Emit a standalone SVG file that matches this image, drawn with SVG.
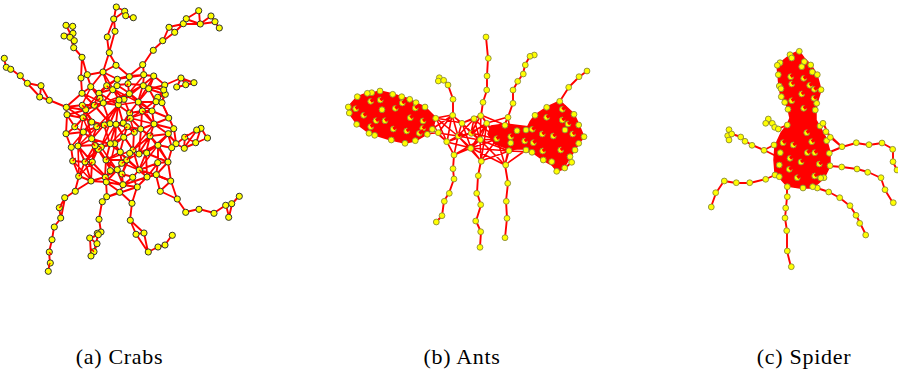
<svg xmlns="http://www.w3.org/2000/svg" width="898" height="375" viewBox="0 0 898 375">
<style>
.e{fill:none;stroke:#f00;stroke-width:1.9;stroke-linejoin:round;stroke-linecap:round}
.m{stroke-width:1.6}
.t{stroke-width:1.1}
.b{fill:#f00;stroke:#f00;stroke-width:1.5;stroke-linejoin:round}
.o{fill:none;stroke:#f00;stroke-width:3.4}
.q{fill:none;stroke:#f00;stroke-width:1.3}
.c circle{fill:#ff0;stroke:#333;stroke-width:1;r:3.1px}
.p circle{fill:#ff0;stroke:#8a8a3a;stroke-width:.9;r:2.9px}
text{font-family:"Liberation Serif",serif;font-size:22px;fill:#000;letter-spacing:.7px;text-anchor:middle}
</style>
<g id="connectors">
<path class="e" d="M116 7L125 11L126 16L133 18M116 7L114 19L125 11M114 19L107 37L109 53L115 31L114 19M109 53L116 65L103 72L109 53M66 25L73 26L73 33L64 36L70 37L74 41L66 25M73 26L74 48L82 57L87 75M70 37L74 48L73 33M82 57L81 78L82 93M81 78L87 75M4 58L6 67L11 69L20 76L27 83L41 86L40 97L49 100L66 107M27 83L40 97M41 86L49 100M143 65L153 50L163 41L175 32L169 27L163 41M169 27L183 24L186 19L199 11L200 24L186 19M175 32L183 24M200 24L211 16L215 22L219 28M200 24L215 22M183 24L200 24M181 78L194 83L186 85L177 87L181 78L165 85M186 85L181 78M165 85L165 94L158 98L156 102L162 103L165 94L164 90L143 85M158 98L164 90"/>
<path class="e" d="M201 128L197 130L185 137L184 148L176 144L172 148M185 137L196 143L207 138L201 128L196 143L184 148L197 130M172 148L176 144L185 137M168 162L171 181L160 191L156 175L171 181L177 199L186 212L199 209L214 213L226 205L232 204L239 196M226 205L229 217L232 204M160 191L177 199M75 191L65 198L59 208L61 218L54 227L52 240L49 252L50 263L48 271M65 198L61 218M91 181L75 191L79 176M102 202L107 197M102 202L99 219L101 232L97 233L98 235L90 238L97 244L94 252L91 256L90 238M98 235L94 252M132 203L130 220L136 234L144 233L148 252L158 247L165 245L172 235M130 220L144 233M136 234L148 252M132 203L120 192L107 197L137 187L132 203M120 192L123 185"/>
<path class="e" d="M103 72L87 75L91 87L82 93L66 107L83 105L94 105L82 93M103 72L91 87L99 93L107 85L103 72L117 79L107 85L113 89L117 85L117 79L129 76L128 84L117 85L129 93L128 84L143 85L144 75L129 76L116 65L129 76L143 65L144 75L154 76L143 85L149 89L154 76L165 85L149 89L164 94L162 103M117 79L144 75M91 87L103 103L99 93L113 89L103 103L119 100L113 89L124 99L129 93L138 102L149 89L156 102L138 102L143 85L129 93M156 102L152 111L142 111L138 102L152 111L169 118L162 103M99 93L94 105L103 103L85 110L94 105L83 105L85 110L66 107L67 115L85 110L83 118L67 115L75 127L83 118L92 122L85 110M94 105L110 123L103 103L118 105L110 123L104 125L92 122L97 127L83 132L92 122M119 100L118 105L124 99L129.5 113L118 105L123 123L129.5 113L130 118L123 123L116 124L118 105M129.5 113L142 111L130 118L141 129L142 111L154 124L152 111M129.5 113L138 102M154 124L169 118L174 129L154 124L141 129L127 127L123 123L110 123L116 124L104 125L110 123M127 127L116 124L124 137L127 127L134 132L141 129L150 136L154 124L168 134L174 129L176 143L168 134L150 136L158 145L168 134L172 148L158 145L172 148L176 144M104 125L92 139L97 127L104 125L110 144L116 124L115 144L124 137L134 132L133 150L124 137L120 152L115 144L110 144L124 137M66 134L75 127L83 132L66 134L71 147L78 146L83 132L92 139L78 146L95 145L92 139L101 147L95 145L98 149L101 147L110 144M115 144L101 147M92 139L110 144M150 136L139 153L133 150L150 136L146 153L158 145L139 153L146 153M141 129L139 153M158 145L168 162L158 163L158 145M71 147L73 161L85 162L78 146L92 162L85 162L95 145L92 162L98 149L106 160L110 144L120 152L106 160L127 160L120 152L122 163L127 160L133 150L122 174L117 170L111 170L106 160L117 170L122 163M73 161L79 176L85 162L91 181L79 176M92 162L91 181L105 177L106 160L111 170L105 177L117 170L106 182L91 181M98 149L85 162M127 160L139 170L133 150M139 153L127 160M139 170L146 153L147 177L139 170L133 177L122 174L123 185L133 177L137 187L123 185L106 182L105 177L123 185L117 170M139 170L156 175L147 177L158 163L156 175L168 162L146 153M139 170L158 163M106 182L107 197M122 174L127 160M147 177L137 187M146 153L158 145M156 175L171 181M168 162L172 148M73 161L71 147M66 134L67 115M66 107L67 115M82 93L66 107M66 107L83 118M120 192L106 182M120 192L123 185L147 177M92 162L106 177"/>
<path class="e m" d="M82 93L103 103L83 118L104 125L118 105L99 93L85 110L97 127L118 105L129 93L103 103M113 89L138 102L118 105L143 85L124 99M129 93L152 111L130 118L154 124L138 102M91 87L82 105M103 72L113 89M117 79L99 93M144 75L129 93M154 76L138 102M164 94L142 111M162 103L169 118M85 110L92 139L83 118L78 146M92 122L71 147M97 127L78 146M110 123L101 147L116 124L133 150M127 127L110 144M123 123L134 132L130 118M141 129L158 145M154 124L133 150M168 134L146 153M174 129L158 145M150 136L168 162M158 145L139 170M133 150L106 160M120 152L147 177M127 160L105 177M122 163L139 170M106 160L92 139M95 145L111 170M85 162L105 177M73 161L92 181M78 146L79 176M92 162L79 176M101 147L117 170M115 144L106 182"/>
<path class="e" d="M486 37L488 58L487 76L487 90L483 102L481 116M534 55L530 56L525 65L523 74L518 81L513 90L513 103L508 117M587 71L579 77L569 87L560 101M439 78L438 81L444 80L448 85L453 99L453 115M439 78L444 80M454 155L453 169L454 179L449 193L444 201L442 216L436 222M481 161L478 176L477 193L481 205L476 221L481 232L480 247M505 165L508 183L506 201L507 218L505 238M557 171L565 168L572 162M557 171L552 162M557 171L570 157"/>
<path class="e m" d="M436 118L452 115L462 123L474 119L481 115L487 123L508 117L505 125L517 131L526 130L532 129M438 133L447 142L458 136L471 133L480 140L497 139L511 137L525 141L533 143M454 155L471 148L481 161L509 151L505 165L526 150L532 152M436 118L447 142L452 115L458 136L462 123L471 133L474 119L480 140L481 115L471 133M438 133L452 115M438 133L458 136L454 155L447 142M458 136L471 148L462 123M471 148L480 140L481 161L497 139L505 165L480 140L509 151L497 139L471 148L509 151M432 129L453 115M436 118L462 123M487 123L480 140M481 115L497 139L508 117L511 137L505 125L497 139M462 123L480 140L452 115M505 165L511 137M509 151L532 152L525 141L509 151L533 143M447 142L471 133M454 155L480 140M481 161L458 136M505 165L471 148M436 118L458 136M432 129L447 142M474 119L458 136M471 133L487 123L471 148M481 115L505 125M474 119L497 139M462 123L481 115M458 136L480 140M447 142L471 148M487 123L481 161M509 151L481 161M497 139L517 131M471 133L497 139M487 123L497 139L508 117M454 155L458 136L481 161"/>
<polygon class="b" points="491,126 505,124 530,127 532,149 509,149 495,144 488,134"/>
<polygon class="b" points="348,107 349,113 357,124 369,133 375,135 391,140 405,143 415,141 427,134 432,129 436,118 425,107 416,103 410,99 402,97 393,94 380,91 372,93 367,93 357,97"/>
<path class="e t" d="M438 133L427 134L436 118L432 129L415 141M425 107L438 133M416 103L436 118M438 133L419 133M436 118L410 130"/>
<path class="b" d="M530 122L535 115L547 107L560 101L574 114L579 125L584 137L579 143L575 150L570 157L565 166L557 171L552 165L543 160L532 152L526 150L524 141L526 130Z"/>
<polygon class="b" points="799,51 790,55 780,63 777,65 778,75 779,86 781,97 785,102 788,109 790,118 787,125 781,133 775,146 774,160 775,173 779,177 787,186 800,188 813,188 824,178 830,166 830,152 826,138 820,127 816,120 816,110 817,103 821,90 817,75 811,65 804,58"/>
<path class="e" d="M768 119L766 123L772 123L775 127L778 129L787 125M768 119L772 123M729 130L728 136L732 134L729 140M729 130L732 134L741 137L745 141L752 145L764 150L774 145M764 150L780 158L774 145M823 123L830 137L842 147L856 143L869 145L882 143L893 149L893 162L897 170M826 132L842 147L830 152L842 147M830 166L842 167L857 169L868 172L881 178L885 190L893 203M817 188L829 192L840 198L850 206L856 215L860 223L866 235M787 187L787 197L786 208L785 218L787 231L787 251L791 267M775 175L766 179L750 183L736 183L724 181L716 193L711 207"/>
</g>
<g class="c">
<g id="c1"><circle cx="116.3" cy="7"/></g><g id="c2"><circle cx="124.7" cy="11.3"/></g><g id="c3"><circle cx="125.7" cy="15.7"/></g><g id="c4"><circle cx="133.3" cy="17.7"/></g><g id="c5"><circle cx="113.7" cy="19"/></g><g id="c6"><circle cx="115" cy="31.3"/></g><g id="c7"><circle cx="107.3" cy="37"/></g><g id="c8"><circle cx="109.3" cy="52.7"/></g><g id="c9"><circle cx="116" cy="65.3"/></g><g id="c10"><circle cx="103" cy="72"/></g>
<g id="c11"><circle cx="142.7" cy="64.7"/></g><g id="c12"><circle cx="153.3" cy="50.3"/></g><g id="c13"><circle cx="162.7" cy="40.7"/></g><g id="c14"><circle cx="174.7" cy="32.3"/></g><g id="c15"><circle cx="169" cy="27.3"/></g><g id="c16"><circle cx="183.3" cy="23.7"/></g><g id="c17"><circle cx="186.3" cy="18.7"/></g><g id="c18"><circle cx="198.7" cy="10.7"/></g><g id="c19"><circle cx="200.3" cy="24"/></g><g id="c20"><circle cx="211" cy="16"/></g><g id="c21"><circle cx="215" cy="21.7"/></g><g id="c22"><circle cx="219.3" cy="28"/></g>
<g id="c23"><circle cx="66" cy="25.3"/></g><g id="c24"><circle cx="72.7" cy="26.3"/></g><g id="c25"><circle cx="73" cy="33.3"/></g><g id="c26"><circle cx="64" cy="36"/></g><g id="c27"><circle cx="70" cy="37.3"/></g><g id="c28"><circle cx="74.3" cy="40.7"/></g><g id="c29"><circle cx="73.7" cy="47.7"/></g><g id="c30"><circle cx="82" cy="57.3"/></g><g id="c31"><circle cx="87.3" cy="74.7"/></g><g id="c32"><circle cx="81" cy="78"/></g><g id="c33"><circle cx="82" cy="93.3"/></g><g id="c34"><circle cx="90.7" cy="86.7"/></g>
<g id="c35"><circle cx="4.3" cy="58.3"/></g><g id="c36"><circle cx="6.3" cy="67.3"/></g><g id="c37"><circle cx="10.7" cy="69.3"/></g><g id="c38"><circle cx="20.3" cy="75.7"/></g><g id="c39"><circle cx="27.3" cy="83.3"/></g><g id="c40"><circle cx="41" cy="85.7"/></g><g id="c41"><circle cx="39.7" cy="97"/></g><g id="c42"><circle cx="49.3" cy="100.3"/></g><g id="c43"><circle cx="66.3" cy="107.3"/></g><g id="c44"><circle cx="67" cy="114.7"/></g>
<g id="c45"><circle cx="181" cy="78"/></g><g id="c46"><circle cx="194" cy="82.7"/></g><g id="c47"><circle cx="185.7" cy="84.7"/></g><g id="c48"><circle cx="176.7" cy="87"/></g><g id="c49"><circle cx="164.7" cy="85"/></g><g id="c50"><circle cx="165.3" cy="94.3"/></g><g id="c51"><circle cx="163.7" cy="90"/></g><g id="c52"><circle cx="157.7" cy="97.3"/></g><g id="c53"><circle cx="156" cy="101.7"/></g><g id="c54"><circle cx="162" cy="102.7"/></g>
<g id="c55"><circle cx="129.3" cy="76.7"/></g><g id="c56"><circle cx="143.7" cy="74.7"/></g><g id="c57"><circle cx="153.7" cy="76"/></g><g id="c58"><circle cx="117.3" cy="79.3"/></g><g id="c59"><circle cx="128" cy="83.7"/></g><g id="c60"><circle cx="106.7" cy="85.7"/></g><g id="c61"><circle cx="112.7" cy="89.7"/></g><g id="c62"><circle cx="117" cy="85.7"/></g><g id="c63"><circle cx="143.3" cy="85.7"/></g><g id="c64"><circle cx="148.7" cy="88.7"/></g><g id="c65"><circle cx="99" cy="93.3"/></g><g id="c66"><circle cx="129.3" cy="93.7"/></g><g id="c67"><circle cx="103.3" cy="103"/></g><g id="c68"><circle cx="118.3" cy="104.7"/></g><g id="c69"><circle cx="138.3" cy="102"/></g><g id="c70"><circle cx="124" cy="99.3"/></g><g id="c71"><circle cx="119" cy="100"/></g><g id="c72"><circle cx="85.7" cy="109.7"/></g><g id="c73"><circle cx="82.3" cy="105.3"/></g><g id="c74"><circle cx="94.3" cy="105.3"/></g><g id="c75"><circle cx="100" cy="98.3"/></g><g id="c76"><circle cx="142.3" cy="111"/></g><g id="c77"><circle cx="152" cy="111"/></g><g id="c78"><circle cx="168.7" cy="118"/></g><g id="c79"><circle cx="129.7" cy="113"/></g><g id="c80"><circle cx="130.3" cy="118.3"/></g>
<g id="c81"><circle cx="83" cy="117.7"/></g><g id="c82"><circle cx="91.7" cy="122"/></g><g id="c83"><circle cx="110" cy="123.7"/></g><g id="c84"><circle cx="123.3" cy="123"/></g><g id="c85"><circle cx="116" cy="124.3"/></g><g id="c86"><circle cx="96.7" cy="126.7"/></g><g id="c87"><circle cx="104.3" cy="125"/></g><g id="c88"><circle cx="74.7" cy="126.7"/></g><g id="c89"><circle cx="66" cy="133.7"/></g><g id="c90"><circle cx="83.3" cy="132"/></g><g id="c91"><circle cx="140.7" cy="129"/></g><g id="c92"><circle cx="127.3" cy="126.7"/></g><g id="c93"><circle cx="154" cy="124"/></g><g id="c94"><circle cx="173.7" cy="128.7"/></g><g id="c95"><circle cx="168.3" cy="133.7"/></g><g id="c96"><circle cx="91.7" cy="138.7"/></g><g id="c97"><circle cx="123.7" cy="137.3"/></g><g id="c98"><circle cx="150" cy="136"/></g><g id="c99"><circle cx="134.3" cy="132.3"/></g>
<g id="c100"><circle cx="184.7" cy="137.3"/></g><g id="c101"><circle cx="201" cy="128.3"/></g><g id="c102"><circle cx="196.7" cy="130"/></g><g id="c103"><circle cx="207.5" cy="138"/></g><g id="c104"><circle cx="195.7" cy="142.7"/></g><g id="c105"><circle cx="184.3" cy="148.3"/></g><g id="c106"><circle cx="176" cy="143.7"/></g><g id="c107"><circle cx="171.7" cy="147.7"/></g><g id="c108"><circle cx="158" cy="145.3"/></g><g id="c109"><circle cx="146.7" cy="153"/></g><g id="c110"><circle cx="139" cy="154"/></g><g id="c111"><circle cx="133" cy="150"/></g><g id="c112"><circle cx="129.7" cy="153.3"/></g><g id="c113"><circle cx="120.3" cy="152"/></g><g id="c114"><circle cx="114.7" cy="143.7"/></g><g id="c115"><circle cx="110.3" cy="143.7"/></g><g id="c116"><circle cx="101.3" cy="147"/></g><g id="c117"><circle cx="98.3" cy="149.3"/></g><g id="c118"><circle cx="95" cy="145.7"/></g><g id="c119"><circle cx="78" cy="146"/></g><g id="c120"><circle cx="71.3" cy="147.3"/></g>
<g id="c121"><circle cx="72.7" cy="161"/></g><g id="c122"><circle cx="85" cy="162"/></g><g id="c123"><circle cx="92.3" cy="162"/></g><g id="c124"><circle cx="106" cy="160"/></g><g id="c125"><circle cx="126.7" cy="160"/></g><g id="c126"><circle cx="121.7" cy="163.3"/></g><g id="c127"><circle cx="117.3" cy="169.7"/></g><g id="c128"><circle cx="110.3" cy="170.7"/></g><g id="c129"><circle cx="157.7" cy="162.7"/></g><g id="c130"><circle cx="168" cy="162"/></g><g id="c131"><circle cx="139.3" cy="170"/></g><g id="c132"><circle cx="156.3" cy="174.7"/></g><g id="c133"><circle cx="147" cy="177"/></g><g id="c134"><circle cx="132.7" cy="177.3"/></g><g id="c135"><circle cx="122" cy="174"/></g><g id="c136"><circle cx="105.3" cy="177.3"/></g><g id="c137"><circle cx="91" cy="181"/></g><g id="c138"><circle cx="78.7" cy="176.3"/></g><g id="c139"><circle cx="106.3" cy="182"/></g><g id="c140"><circle cx="123" cy="184.7"/></g><g id="c141"><circle cx="137.3" cy="187"/></g><g id="c142"><circle cx="170.7" cy="181"/></g><g id="c143"><circle cx="160.3" cy="191.3"/></g><g id="c144"><circle cx="177.3" cy="199"/></g><g id="c145"><circle cx="119.7" cy="192.3"/></g><g id="c146"><circle cx="75.3" cy="191.3"/></g>
<g id="c147"><circle cx="64.7" cy="197.7"/></g><g id="c148"><circle cx="106.7" cy="196.7"/></g><g id="c149"><circle cx="102.3" cy="201.7"/></g><g id="c150"><circle cx="132" cy="203.3"/></g><g id="c151"><circle cx="59.3" cy="207.7"/></g><g id="c152"><circle cx="60.7" cy="218"/></g><g id="c153"><circle cx="54.3" cy="227"/></g><g id="c154"><circle cx="52" cy="239.7"/></g><g id="c155"><circle cx="49.3" cy="252"/></g><g id="c156"><circle cx="50.3" cy="263"/></g><g id="c157"><circle cx="48.3" cy="271.3"/></g>
<g id="c158"><circle cx="99" cy="219.3"/></g><g id="c159"><circle cx="101" cy="232"/></g><g id="c160"><circle cx="97.3" cy="233.3"/></g><g id="c161"><circle cx="98.3" cy="234.7"/></g><g id="c162"><circle cx="89.7" cy="238"/></g><g id="c163"><circle cx="97" cy="243.7"/></g><g id="c164"><circle cx="94" cy="251.7"/></g><g id="c165"><circle cx="91" cy="256"/></g>
<g id="c166"><circle cx="130.3" cy="220.3"/></g><g id="c167"><circle cx="136" cy="234.3"/></g><g id="c168"><circle cx="144" cy="233"/></g><g id="c169"><circle cx="148.3" cy="252"/></g><g id="c170"><circle cx="158" cy="247"/></g><g id="c171"><circle cx="165" cy="245"/></g><g id="c172"><circle cx="172.3" cy="235.3"/></g>
<g id="c173"><circle cx="185.7" cy="212.3"/></g><g id="c174"><circle cx="199" cy="209.3"/></g><g id="c175"><circle cx="214" cy="213.3"/></g><g id="c176"><circle cx="225.7" cy="205.3"/></g><g id="c177"><circle cx="231.7" cy="203.7"/></g><g id="c178"><circle cx="239.3" cy="196.3"/></g><g id="c179"><circle cx="228.7" cy="217.3"/></g>
</g>
<g class="p">
<g id="a1"><circle cx="486" cy="37"/></g><g id="a2"><circle cx="488.3" cy="58.3"/></g><g id="a3"><circle cx="487" cy="76"/></g><g id="a4"><circle cx="486.7" cy="90"/></g><g id="a5"><circle cx="483" cy="102.3"/></g><g id="a6"><circle cx="480.7" cy="115.7"/></g>
<g id="a7"><circle cx="534.3" cy="55"/></g><g id="a8"><circle cx="530" cy="56.3"/></g><g id="a9"><circle cx="525.3" cy="65"/></g><g id="a10"><circle cx="523.3" cy="74"/></g><g id="a11"><circle cx="517.7" cy="81.3"/></g><g id="a12"><circle cx="513" cy="90"/></g><g id="a13"><circle cx="513" cy="103.3"/></g><g id="a14"><circle cx="508" cy="117.3"/></g>
<g id="a15"><circle cx="587" cy="71"/></g><g id="a16"><circle cx="579" cy="76.7"/></g><g id="a17"><circle cx="568.7" cy="87.3"/></g><g id="a18"><circle cx="559.7" cy="101.3"/></g>
<g id="a19"><circle cx="439.3" cy="77.7"/></g><g id="a20"><circle cx="438.3" cy="81"/></g><g id="a21"><circle cx="443.7" cy="80.3"/></g><g id="a22"><circle cx="448" cy="85"/></g><g id="a23"><circle cx="453" cy="99.3"/></g><g id="a24"><circle cx="452.7" cy="115.3"/></g>
<g id="a25"><circle cx="348.3" cy="107"/></g><g id="a26"><circle cx="349.3" cy="113"/></g><g id="a27"><circle cx="356.7" cy="124.3"/></g><g id="a28"><circle cx="369" cy="133.3"/></g><g id="a29"><circle cx="374.7" cy="135.3"/></g><g id="a30"><circle cx="391.3" cy="140"/></g><g id="a31"><circle cx="405" cy="143.3"/></g><g id="a32"><circle cx="415.3" cy="140.7"/></g><g id="a33"><circle cx="427.3" cy="134.3"/></g><g id="a34"><circle cx="432.3" cy="129.3"/></g><g id="a35"><circle cx="438.3" cy="132.7"/></g><g id="a36"><circle cx="435.7" cy="118.3"/></g><g id="a37"><circle cx="425" cy="107"/></g><g id="a38"><circle cx="416" cy="102.7"/></g><g id="a39"><circle cx="409.7" cy="99.3"/></g><g id="a40"><circle cx="401.7" cy="96.7"/></g><g id="a41"><circle cx="392.7" cy="94.3"/></g><g id="a42"><circle cx="380" cy="91"/></g><g id="a43"><circle cx="371.7" cy="92.7"/></g><g id="a44"><circle cx="367.3" cy="93.3"/></g><g id="a45"><circle cx="357.3" cy="96.7"/></g>
<g id="a46"><circle cx="355.7" cy="108.7"/></g><g id="a47"><circle cx="370.7" cy="101.3"/></g><g id="a48"><circle cx="380.3" cy="100"/></g><g id="a49"><circle cx="395.3" cy="108.3"/></g><g id="a50"><circle cx="402.3" cy="103"/></g><g id="a51"><circle cx="415.3" cy="108"/></g><g id="a52"><circle cx="410.3" cy="117.7"/></g><g id="a53"><circle cx="423" cy="121"/></g><g id="a54"><circle cx="422.7" cy="128.3"/></g><g id="a55"><circle cx="363.7" cy="115.3"/></g><g id="a56"><circle cx="376" cy="120.7"/></g><g id="a57"><circle cx="385" cy="120.7"/></g><g id="a58"><circle cx="370.7" cy="126.7"/></g><g id="a59"><circle cx="393.3" cy="129"/></g><g id="a60"><circle cx="406.7" cy="131"/></g><g id="a61"><circle cx="419.3" cy="133.3"/></g>
<g id="a62"><circle cx="462" cy="123.3"/></g><g id="a63"><circle cx="474" cy="118.7"/></g><g id="a64"><circle cx="486.7" cy="123.3"/></g><g id="a65"><circle cx="505" cy="125.3"/></g><g id="a66"><circle cx="458.3" cy="136"/></g><g id="a67"><circle cx="446.7" cy="141.7"/></g><g id="a68"><circle cx="471.3" cy="133.3"/></g><g id="a69"><circle cx="496.7" cy="138.7"/></g><g id="a70"><circle cx="470.7" cy="148.3"/></g><g id="a71"><circle cx="454" cy="155"/></g><g id="a72"><circle cx="481.3" cy="161.3"/></g><g id="a73"><circle cx="505.7" cy="165"/></g><g id="a74"><circle cx="509" cy="150.7"/></g><g id="a75"><circle cx="517" cy="130.7"/></g><g id="a76"><circle cx="510.7" cy="136.7"/></g><g id="a77"><circle cx="526" cy="130"/></g><g id="a78"><circle cx="532.3" cy="129.3"/></g><g id="a79"><circle cx="524.7" cy="141"/></g><g id="a80"><circle cx="533.3" cy="142.7"/></g><g id="a81"><circle cx="526" cy="150"/></g><g id="a82"><circle cx="532" cy="152.3"/></g><g id="a83"><circle cx="510.7" cy="143"/></g>
<g id="a84"><circle cx="535" cy="115.3"/></g><g id="a85"><circle cx="546.7" cy="107.3"/></g><g id="a86"><circle cx="574" cy="114.3"/></g><g id="a87"><circle cx="578.7" cy="125"/></g><g id="a88"><circle cx="584" cy="136.7"/></g><g id="a89"><circle cx="578.7" cy="143.3"/></g><g id="a90"><circle cx="575" cy="150"/></g><g id="a91"><circle cx="570" cy="156.7"/></g><g id="a92"><circle cx="556.7" cy="171.3"/></g><g id="a93"><circle cx="564.7" cy="168"/></g><g id="a94"><circle cx="571.7" cy="162.3"/></g><g id="a95"><circle cx="551.7" cy="161.7"/></g><g id="a96"><circle cx="543.3" cy="160"/></g>
<g id="a97"><circle cx="546.7" cy="117.3"/></g><g id="a98"><circle cx="562.3" cy="109.3"/></g><g id="a99"><circle cx="562.3" cy="120"/></g><g id="a100"><circle cx="553.3" cy="136"/></g><g id="a101"><circle cx="542.3" cy="134"/></g><g id="a102"><circle cx="572.7" cy="134"/></g><g id="a103"><circle cx="560.7" cy="150"/></g><g id="a104"><circle cx="542.7" cy="151"/></g><g id="a105"><circle cx="568" cy="124"/></g>
<g id="a106"><circle cx="453" cy="168.7"/></g><g id="a107"><circle cx="454" cy="179"/></g><g id="a108"><circle cx="449.3" cy="193.3"/></g><g id="a109"><circle cx="444.3" cy="201.3"/></g><g id="a110"><circle cx="442" cy="215.7"/></g><g id="a111"><circle cx="436.3" cy="222"/></g><g id="a112"><circle cx="478.3" cy="175.7"/></g><g id="a113"><circle cx="476.7" cy="193.3"/></g><g id="a114"><circle cx="480.7" cy="204.7"/></g><g id="a115"><circle cx="475.7" cy="221"/></g><g id="a116"><circle cx="480.7" cy="231.7"/></g><g id="a117"><circle cx="480" cy="247.3"/></g><g id="a118"><circle cx="507.7" cy="183.3"/></g><g id="a119"><circle cx="506.3" cy="201.3"/></g><g id="a120"><circle cx="507" cy="218.3"/></g><g id="a121"><circle cx="505" cy="237.7"/></g>
<g id="s1"><circle cx="799.3" cy="51.3"/></g><g id="s2"><circle cx="790" cy="54.7"/></g><g id="s3"><circle cx="791.7" cy="58"/></g><g id="s4"><circle cx="804.3" cy="61.7"/></g><g id="s5"><circle cx="810.7" cy="65"/></g><g id="s6"><circle cx="812.3" cy="72"/></g><g id="s7"><circle cx="817.3" cy="74.7"/></g><g id="s8"><circle cx="821" cy="89.7"/></g><g id="s9"><circle cx="816.7" cy="103.3"/></g><g id="s10"><circle cx="815.3" cy="110"/></g><g id="s11"><circle cx="780" cy="62.7"/></g><g id="s12"><circle cx="777.3" cy="65.3"/></g><g id="s13"><circle cx="778.3" cy="74.7"/></g><g id="s14"><circle cx="779.3" cy="86"/></g><g id="s15"><circle cx="781" cy="88.7"/></g><g id="s16"><circle cx="781.3" cy="96.7"/></g><g id="s17"><circle cx="784.7" cy="102.3"/></g><g id="s18"><circle cx="788" cy="109.3"/></g>
<g id="s19"><circle cx="790.7" cy="76.7"/></g><g id="s20"><circle cx="803.7" cy="78.3"/></g><g id="s21"><circle cx="809.7" cy="85.3"/></g><g id="s22"><circle cx="791.7" cy="84"/></g><g id="s23"><circle cx="801.7" cy="94"/></g><g id="s24"><circle cx="814" cy="98.3"/></g><g id="s25"><circle cx="791.7" cy="100.7"/></g><g id="s26"><circle cx="803.7" cy="108.3"/></g><g id="s27"><circle cx="814.3" cy="89.3"/></g>
<g id="s28"><circle cx="768.3" cy="119"/></g><g id="s29"><circle cx="765.7" cy="123.3"/></g><g id="s30"><circle cx="772.3" cy="123.3"/></g><g id="s31"><circle cx="774.7" cy="127.3"/></g><g id="s32"><circle cx="778.3" cy="129"/></g><g id="s33"><circle cx="787.3" cy="125"/></g><g id="s34"><circle cx="729" cy="129.7"/></g><g id="s35"><circle cx="727.7" cy="135.7"/></g><g id="s36"><circle cx="731.7" cy="134"/></g><g id="s37"><circle cx="729" cy="140"/></g><g id="s38"><circle cx="740.7" cy="137"/></g><g id="s39"><circle cx="745" cy="141.3"/></g><g id="s40"><circle cx="752" cy="145.3"/></g><g id="s41"><circle cx="764" cy="150.3"/></g><g id="s42"><circle cx="774" cy="145"/></g>
<g id="s43"><circle cx="842" cy="146.7"/></g><g id="s44"><circle cx="856.3" cy="142.7"/></g><g id="s45"><circle cx="869" cy="144.7"/></g><g id="s46"><circle cx="882" cy="143"/></g><g id="s47"><circle cx="892.7" cy="149.3"/></g><g id="s48"><circle cx="893" cy="161.7"/></g><g id="s49"><circle cx="897" cy="170"/></g><g id="s50"><circle cx="830" cy="165.7"/></g><g id="s51"><circle cx="841.7" cy="167"/></g><g id="s52"><circle cx="857" cy="169"/></g><g id="s53"><circle cx="867.7" cy="172.3"/></g><g id="s54"><circle cx="881" cy="177.7"/></g><g id="s55"><circle cx="885" cy="189.7"/></g><g id="s56"><circle cx="893.3" cy="202.7"/></g>
<g id="s57"><circle cx="817.3" cy="188"/></g><g id="s58"><circle cx="828.7" cy="192"/></g><g id="s59"><circle cx="839.7" cy="197.7"/></g><g id="s60"><circle cx="850" cy="205.7"/></g><g id="s61"><circle cx="856" cy="215.3"/></g><g id="s62"><circle cx="859.7" cy="223.3"/></g><g id="s63"><circle cx="865.7" cy="235"/></g><g id="s64"><circle cx="787.3" cy="186.7"/></g><g id="s65"><circle cx="787.3" cy="196.7"/></g><g id="s66"><circle cx="785.7" cy="208"/></g><g id="s67"><circle cx="785" cy="218"/></g><g id="s68"><circle cx="786.7" cy="230.7"/></g><g id="s69"><circle cx="787.3" cy="251"/></g><g id="s70"><circle cx="791.3" cy="266.7"/></g>
<g id="s71"><circle cx="775" cy="175"/></g><g id="s72"><circle cx="765.7" cy="179.3"/></g><g id="s73"><circle cx="749.7" cy="182.7"/></g><g id="s74"><circle cx="736.3" cy="182.7"/></g><g id="s75"><circle cx="724.3" cy="181"/></g><g id="s76"><circle cx="715.7" cy="192.7"/></g><g id="s77"><circle cx="711.3" cy="207"/></g>
<g id="s78"><circle cx="779.3" cy="165"/></g><g id="s79"><circle cx="779.3" cy="176.7"/></g><g id="s80"><circle cx="803" cy="188"/></g><g id="s81"><circle cx="812.7" cy="186.7"/></g><g id="s82"><circle cx="824" cy="177.7"/></g><g id="s83"><circle cx="820.7" cy="178"/></g><g id="s84"><circle cx="829.3" cy="153.3"/></g><g id="s85"><circle cx="826.7" cy="140.7"/></g><g id="s86"><circle cx="830.3" cy="137.3"/></g><g id="s87"><circle cx="820" cy="126"/></g><g id="s88"><circle cx="823" cy="123.3"/></g><g id="s89"><circle cx="826" cy="131.7"/></g>
<g id="s90"><circle cx="793.3" cy="145"/></g><g id="s91"><circle cx="790" cy="158.3"/></g><g id="s92"><circle cx="807.3" cy="152.7"/></g><g id="s93"><circle cx="814.7" cy="152.7"/></g><g id="s94"><circle cx="801" cy="162"/></g><g id="s95"><circle cx="819.3" cy="164"/></g><g id="s96"><circle cx="789.3" cy="169.3"/></g><g id="s97"><circle cx="814.7" cy="176"/></g><g id="s98"><circle cx="797.3" cy="177.7"/></g><g id="s99"><circle cx="783" cy="142.7"/></g><g id="s100"><circle cx="811.7" cy="141.7"/></g><g id="s101"><circle cx="806.7" cy="132.7"/></g>
</g>
<g id="connectors-over">
<path class="o" d="M355.7 108.7l4-3M370.7 101.3l4-3M380.3 100l4-3M395.3 108.3l4-3M402.3 103l4-3M415.3 108l4-3M410.3 117.7l4-3M423 121l4-3M422.7 128.3l4-3M363.7 115.3l4-3M376 120.7l4-3M385 120.7l4-3M370.7 126.7l4-3M393.3 129l4-3M406.7 131l4-3M419.3 133.3l4-3M458.3 136l4-3M471.3 133.3l4-3M496.7 138.7l4-3M546.7 117.3l4-3M562.3 109.3l4-3M562.3 120l4-3M553.3 136l4-3M542.3 134l4-3M572.7 134l4-3M560.7 150l4-3M542.7 151l4-3M568 124l4-3M524.7 141l4-3M532.3 129.3l4-3M533.3 142.7l4-3M510.7 136.7l4-3M790.7 76.7l4-3M803.7 78.3l4-3M809.7 85.3l4-3M791.7 84l4-3M801.7 94l4-3M814 98.3l4-3M791.7 100.7l4-3M803.7 108.3l4-3M814.3 89.3l4-3M793.3 145l4-3M790 158.3l4-3M807.3 152.7l4-3M814.7 152.7l4-3M801 162l4-3M819.3 164l4-3M789.3 169.3l4-3M814.7 176l4-3M797.3 177.7l4-3M783 142.7l4-3M811.7 141.7l4-3M806.7 132.7l4-3"/>
<path class="q" d="M94.3 105.3l3-3M82.3 105.3l3 3M83 117.7l3 3M100 98.3l-3 3M106.7 85.7l3 3M128 83.7l-2 3M129.7 113l3-3M130.3 118.3l-3 3M142.3 111l3 2M74.7 126.7l3-3M96.7 126.7l3-2M104.3 125l3 3M127.3 126.7l-3 2M134.3 132.3l-3-3M150 136l3-3M95 145.7l-3-3M101.3 147l-3 3M133 150l3-3M85 162l3-3M92.3 162l-3 3M106 160l3-3M126.7 160l3-3M121.7 163.3l3-2M78.7 176.3l3-3M105.3 177.3l3 3M122 174l3 3M59.3 207.7l3-3M94 251.7l-3-3M49.3 252l2 3M50.3 263l-2 3M185 137.3l3-3M72.7 161l3-3M139.3 170l3 3"/>
</g>
<g class="p">
<g id="a122"><circle cx="382" cy="109.7"/></g><g id="a123"><circle cx="480.3" cy="139.7"/></g><g id="a124"><circle cx="565" cy="130"/></g><g id="s102"><circle cx="801.7" cy="66.7"/></g><g id="s103"><circle cx="780.3" cy="152.7"/></g>
</g>
<text x="119.5" y="364">(a) Crabs</text>
<text x="462" y="364">(b) Ants</text>
<text x="804" y="364">(c) Spider</text>
</svg>
